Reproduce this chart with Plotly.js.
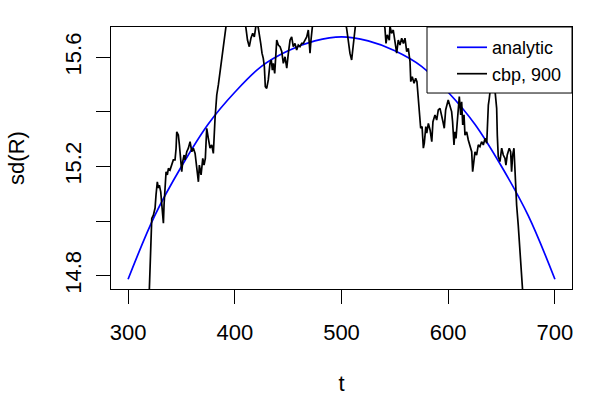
<!DOCTYPE html>
<html>
<head>
<meta charset="utf-8">
<script src="https://cdn.plot.ly/plotly-3.0.1.min.js"></script>
<style>html,body{margin:0;padding:0;background:#fff;}#chart{width:600px;height:400px;}</style>
</head>
<body>
<div id="chart"></div>
<script>
// analytic curve
var tAnalytic = [300,325,350,375,400,425,450,475,500,525,550,575,600,625,650,675,700];
var vAnalytic = [14.787,15.02,15.20,15.355,15.472,15.567,15.624,15.660,15.675,15.660,15.624,15.567,15.472,15.355,15.20,15.02,14.787];

// cbp, 900 series (values beyond the axis range are clipped)
var tCbp = [319.5,322.2,323.7,325.3,326.2,327.4,328.4,329.3,330.6,331.6,333.1,333.7,334.7,335.6,336.8,337.8,339.3,340.9,342.4,344.0,
345.0,345.6,347.1,348.1,349.4,350.3,351.2,352.5,353.4,355.0,356.5,358.1,359.7,361.2,362.8,364.4,365.9,366.8,368.4,370.0,
371.2,372.4,373.7,375.2,376.8,378.4,379.9,381.5,383.1,384.6,386.2,387.8,389.3,390.9,393.0,397.0,402.0,406.0,409.5,410.5,
411.9,413.6,415.2,416.8,418.3,419.9,420.8,422.1,423.0,424.3,425.5,426.7,427.7,428.6,429.9,431.4,433.0,434.2,435.2,436.1,
437.4,438.4,439.3,440.8,442.4,444.0,445.5,447.1,448.7,450.2,451.8,453.3,454.8,456.4,458.0,459.5,461.1,462.7,464.2,465.8,
467.4,468.9,470.5,471.4,472.4,474.0,480.0,487.0,494.0,500.0,503.5,504.8,506.3,507.9,509.5,511.1,512.7,514.0,520.0,527.0,
534.0,539.5,540.7,541.7,542.9,544.8,545.4,546.9,548.5,550.1,551.7,553.2,554.8,556.4,558.0,559.5,561.1,562.6,564.2,564.9,
566.3,568.0,569.5,570.7,572.0,572.9,574.2,575.5,576.7,577.6,579.0,579.9,581.4,583.0,584.6,585.7,587.6,589.2,590.7,592.3,
593.9,595.1,596.3,597.6,600.0,601.6,603.2,604.1,605.4,606.3,607.3,608.5,609.4,610.4,611.7,612.6,613.6,614.8,615.7,617.3,
618.8,620.4,622.0,622.9,624.1,625.1,626.6,628.2,629.7,631.3,632.9,634.5,636.1,637.0,637.6,638.5,639.8,641.5,642.9,643.8,
645.4,646.0,646.9,648.5,650.1,651.6,653.2,654.1,655.3,657.2,658.5,659.4,660.4,661.6,662.5,664.1,665.6,667.2,668.8,670.5];
var vCbp = [14.70,15.010,15.022,15.048,15.096,15.144,15.121,15.132,15.107,15.059,14.992,15.059,15.144,15.181,15.169,15.193,15.187,15.205,15.224,15.224,
15.267,15.327,15.315,15.279,15.230,15.181,15.218,15.242,15.224,15.254,15.267,15.291,15.254,15.267,15.248,15.193,15.144,15.205,15.169,15.230,
15.205,15.230,15.340,15.303,15.267,15.279,15.248,15.377,15.462,15.499,15.547,15.596,15.645,15.694,15.75,15.78,15.80,15.77,15.73,15.706,
15.663,15.639,15.671,15.688,15.675,15.718,15.729,15.706,15.675,15.651,15.615,15.596,15.566,15.492,15.486,15.517,15.578,15.590,15.553,15.578,
15.541,15.602,15.663,15.645,15.639,15.621,15.578,15.602,15.560,15.615,15.663,15.675,15.639,15.651,15.627,15.645,15.639,15.651,15.651,15.663,
15.675,15.700,15.615,15.663,15.706,15.76,15.79,15.81,15.80,15.77,15.73,15.706,15.663,15.615,15.590,15.645,15.706,15.75,15.79,15.81,
15.78,15.73,15.707,15.651,15.682,15.663,15.715,15.688,15.700,15.651,15.615,15.663,15.645,15.670,15.651,15.670,15.621,15.633,15.584,15.511,
15.529,15.505,15.523,15.511,15.444,15.414,15.340,15.346,15.267,15.286,15.346,15.322,15.358,15.334,15.291,15.364,15.389,15.370,15.407,15.413,
15.389,15.364,15.340,15.407,15.444,15.425,15.401,15.364,15.279,15.327,15.303,15.364,15.413,15.456,15.389,15.437,15.352,15.389,15.315,15.327,
15.297,15.279,15.254,15.181,15.230,15.254,15.242,15.279,15.273,15.291,15.279,15.303,15.285,15.378,15.425,15.450,15.488,15.553,15.517,15.474,
15.413,15.315,15.236,15.218,15.267,15.242,15.230,15.205,15.242,15.267,15.254,15.181,15.242,15.267,15.181,15.059,14.986,14.888,14.803,14.70];

var xTicks = [300,400,500,600,700];
var yTicks = [14.8,15.0,15.2,15.4,15.6];
var yTickText = ["14.8","","15.2","","15.6"];

var FONT = '"Liberation Sans", Arial, Helvetica, sans-serif';

var traces = [
  {x: tAnalytic, y: vAnalytic, mode: 'lines', name: 'analytic',
   line: {color: '#0000FF', width: 1.7, shape: 'spline', smoothing: 1}},
  {x: tCbp, y: vCbp, mode: 'lines', name: 'cbp, 900',
   line: {color: '#000000', width: 1.7}}
];

var layout = {
  width: 600, height: 400,
  margin: {l: 111, r: 28, t: 27, b: 111, pad: 0},
  paper_bgcolor: '#fff', plot_bgcolor: '#fff',
  font: {family: FONT, color: '#000', size: 22},
  showlegend: true,
  legend: {x: 0.7397, xanchor: 'left', y: 0.992, yanchor: 'top',
           bgcolor: 'rgba(0,0,0,0)', borderwidth: 0,
           font: {family: FONT, size: 18, color: '#000'}},
  // legend frame (white box with black border, like R's legend())
  shapes: [{type: 'rect', xref: 'paper', yref: 'paper', layer: 'above',
            x0: 0.6855, x1: 1, y0: 0.748, y1: 1,
            fillcolor: '#fff', line: {color: '#000', width: 1}}],
  xaxis: {range: [284, 716], tickvals: xTicks, ticktext: xTicks.map(String),
          ticks: 'outside', ticklen: 14, tickwidth: 1, tickcolor: '#000',
          showline: true, mirror: true, linecolor: '#000', linewidth: 1,
          showgrid: false, zeroline: false, tickfont: {size: 22},
          ticklabelstandoff: 10,
          title: {text: 't', font: {size: 22}, standoff: 31}},
  yaxis: {range: [14.7513, 15.711], tickvals: yTicks, ticktext: yTickText,
          tickangle: -90,
          ticks: 'outside', ticklen: 14, tickwidth: 1, tickcolor: '#000',
          showline: true, mirror: true, linecolor: '#000', linewidth: 1,
          showgrid: false, zeroline: false, tickfont: {size: 22},
          ticklabelstandoff: 6,
          title: {text: 'sd(R)', font: {size: 22}, standoff: 30}}
};

Plotly.newPlot('chart', traces, layout, {displayModeBar: false, staticPlot: true});
</script>
</body>
</html>
